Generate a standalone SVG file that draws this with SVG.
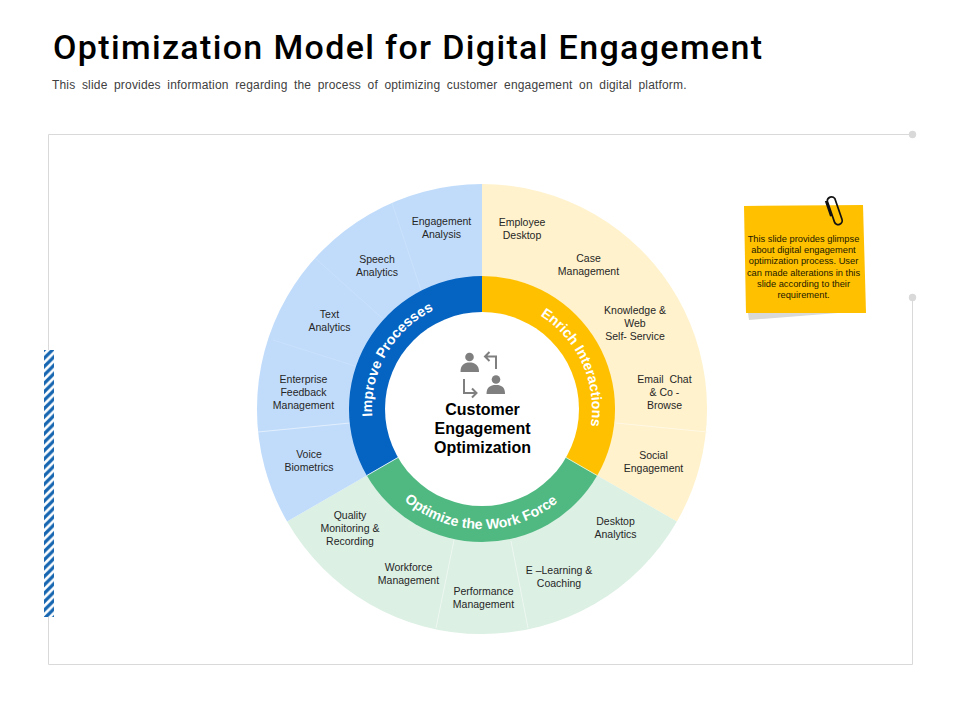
<svg xmlns="http://www.w3.org/2000/svg" width="960" height="720" viewBox="0 0 960 720">
<style>
.l{font-family:"Liberation Sans",Arial,sans-serif;font-size:10.5px;fill:#262626;text-anchor:middle}
.r{font-family:"Liberation Sans",Arial,sans-serif;font-size:14.2px;font-weight:bold;fill:#fff;text-anchor:middle}
.c{font-family:"Liberation Sans",Arial,sans-serif;font-size:16px;font-weight:bold;fill:#000;text-anchor:middle}
.n{font-family:"Liberation Sans",Arial,sans-serif;font-size:9.3px;fill:#1a1a00;text-anchor:middle}
.f{stroke:#d9d9d9;stroke-width:1;fill:none}
.d{stroke-width:1;fill:none}
.g{fill:#7f7f7f}
.a{stroke:#7f7f7f;stroke-width:2;fill:none}
</style>
<defs>
<pattern id="st" width="8.4" height="8.4" patternUnits="userSpaceOnUse" patternTransform="translate(44 350)">
<path d="M-2.1 2.1L2.1 -2.1M-2.1 10.5L10.5 -2.1M6.3 10.5L10.5 6.3" stroke="#1565b0" stroke-width="3.2" fill="none"/>
</pattern>
<path id="p1" d="M386.7 464A110 110 0 0 1 482 299"/>
<path id="p2" d="M482 299A110 110 0 0 1 577.3 464"/>
<path id="p3" d="M378 469A120 120 0 0 0 586 469"/>
</defs>
<rect width="960" height="720" fill="#fff"/>
<text x="53" y="59" font-family="Roboto,sans-serif" font-size="34" font-weight="500" letter-spacing="1.35" fill="#000">Optimization Model for Digital Engagement</text>
<text x="52" y="89" font-family="'Liberation Sans',Arial,sans-serif" font-size="12" word-spacing="3" letter-spacing="0.18" fill="#404040">This slide provides information regarding the process of optimizing customer engagement on digital platform.</text>
<g id="frame">
<path class="f" d="M912.5 134.5H48.5V350M48.5 617V664.5H912.5V297"/>
<circle cx="912.5" cy="134.5" r="3.7" fill="#d9d9d9"/>
<circle cx="912.5" cy="297.5" r="3.7" fill="#d9d9d9"/>
<rect x="44" y="350" width="10" height="267" fill="url(#st)"/>
</g>
<g id="sector-enrich">
<path d="M482 409V184A225 225 0 0 1 676.9 521.5Z" fill="#fff2cc"/>
<path class="d" stroke="#fff8e5" d="M616 423L707 432"/>
</g>
<g id="sector-workforce">
<path d="M482 409L676.9 521.5A225 225 0 0 1 287.1 521.5Z" fill="#dcf0e4"/>
<path class="d" stroke="#eef8f2" d="M454 540L436 628M511 541L528 628"/>
</g>
<g id="sector-improve">
<path d="M482 409L287.1 521.5A225 225 0 0 1 482 184Z" fill="#c1dcfb"/>
<path class="d" stroke="#e2effd" d="M350 423L258 432"/>
<path class="d" stroke="#c9e1fb" d="M355 366L273 340M382 318L315 258M421 290L392 203"/>
</g>
<g id="ring-improve">
<path d="M482 409L366.8 475.5A133 133 0 0 1 482 276Z" fill="#0563c1"/>
</g>
<g id="ring-enrich">
<path d="M482 409V276A133 133 0 0 1 597.2 475.5Z" fill="#ffc000"/>
</g>
<g id="ring-workforce">
<path d="M482 409L597.2 475.5A133 133 0 0 1 366.8 475.5Z" fill="#4fb981"/>
<path class="d" stroke="#e5efc0" d="M597.2 475.5L566 457.5"/>
<path class="d" stroke="#d6e8fc" d="M366.8 475.5L398 457.5"/>
</g>
<circle cx="482" cy="409" r="97" fill="#fff"/>
<text class="r"><textPath href="#p1" startOffset="50%">Improve Processes</textPath></text>
<text class="r"><textPath href="#p2" startOffset="54.5%">Enrich Interactions</textPath></text>
<text class="r"><textPath href="#p3" startOffset="49.500%">Optimize the Work Force</textPath></text>
<g id="center">
<circle class="g" cx="469.5" cy="357" r="4.3"/>
<path class="g" d="M460.5 372C460.5 365 464 362.5 469.5 362.5S479 365 479 372Z"/>
<circle class="g" cx="496" cy="379.500" r="4.300"/>
<path class="g" d="M486.500 394C486.500 387.500 490 385 496 385S505 387.500 505 394Z"/>
<path class="a" d="M496 369V356.500H485M489.500 352L485 356.500L489.500 361"/>
<path class="a" d="M464 379V393H476.500M472 388.500L476.500 393L472 397.500"/>
<text class="c" x="482.500" y="415">Customer</text>
<text class="c" x="482.500" y="434">Engagement</text>
<text class="c" x="482.500" y="453">Optimization</text>
</g>
<g id="labels">
<text class="l" x="441.500" y="225">Engagement</text><text class="l" x="441.500" y="238">Analysis</text>
<text class="l" x="377" y="263">Speech</text><text class="l" x="377" y="276">Analytics</text>
<text class="l" x="329.500" y="318">Text</text><text class="l" x="329.500" y="331">Analytics</text>
<text class="l" x="303.500" y="383">Enterprise</text><text class="l" x="303.500" y="396">Feedback</text><text class="l" x="303.500" y="409">Management</text>
<text class="l" x="309" y="458">Voice</text><text class="l" x="309" y="471">Biometrics</text>
<text class="l" x="522" y="226">Employee</text><text class="l" x="522" y="239">Desktop</text>
<text class="l" x="588.500" y="262">Case</text><text class="l" x="588.500" y="275">Management</text>
<text class="l" x="635" y="314">Knowledge &amp;</text><text class="l" x="635" y="327">Web</text><text class="l" x="635" y="340">Self- Service</text>
<text class="l" x="664.500" y="383" xml:space="preserve">Email  Chat</text><text class="l" x="664.500" y="396">&amp; Co -</text><text class="l" x="664.500" y="409">Browse</text>
<text class="l" x="653.500" y="459">Social</text><text class="l" x="653.500" y="472">Engagement</text>
<text class="l" x="615.500" y="525">Desktop</text><text class="l" x="615.500" y="538">Analytics</text>
<text class="l" x="559" y="574">E –Learning &amp;</text><text class="l" x="559" y="587">Coaching</text>
<text class="l" x="483.500" y="595">Performance</text><text class="l" x="483.500" y="608">Management</text>
<text class="l" x="408.500" y="571">Workforce</text><text class="l" x="408.500" y="584">Management</text>
<text class="l" x="350" y="519">Quality</text><text class="l" x="350" y="532">Monitoring &amp;</text><text class="l" x="350" y="545">Recording</text>
</g>
<g id="note">
<path d="M748 313L838 313L749 320Z" fill="#d9d9d9"/>
<path d="M744 206L863 205L866 313L746 313Z" fill="#ffc000"/>
<path transform="translate(833.500 210) rotate(-19)" d="M-3 7V-10.500A4.300 4.300 0 0 1 5 -10.500V11.500A3.800 3.800 0 0 1 -3 11.500V7M-4.500 -11V5" fill="none" stroke="#111" stroke-width="1.700"/>
<text class="n" x="803.500" y="242">This slide provides glimpse</text>
<text class="n" x="803.500" y="253">about digital engagement</text>
<text class="n" x="803.500" y="264">optimization process. User</text>
<text class="n" x="803.500" y="276">can made alterations in this</text>
<text class="n" x="803.500" y="287">slide according to their</text>
<text class="n" x="803.500" y="298">requirement.</text>
</g>
</svg>
